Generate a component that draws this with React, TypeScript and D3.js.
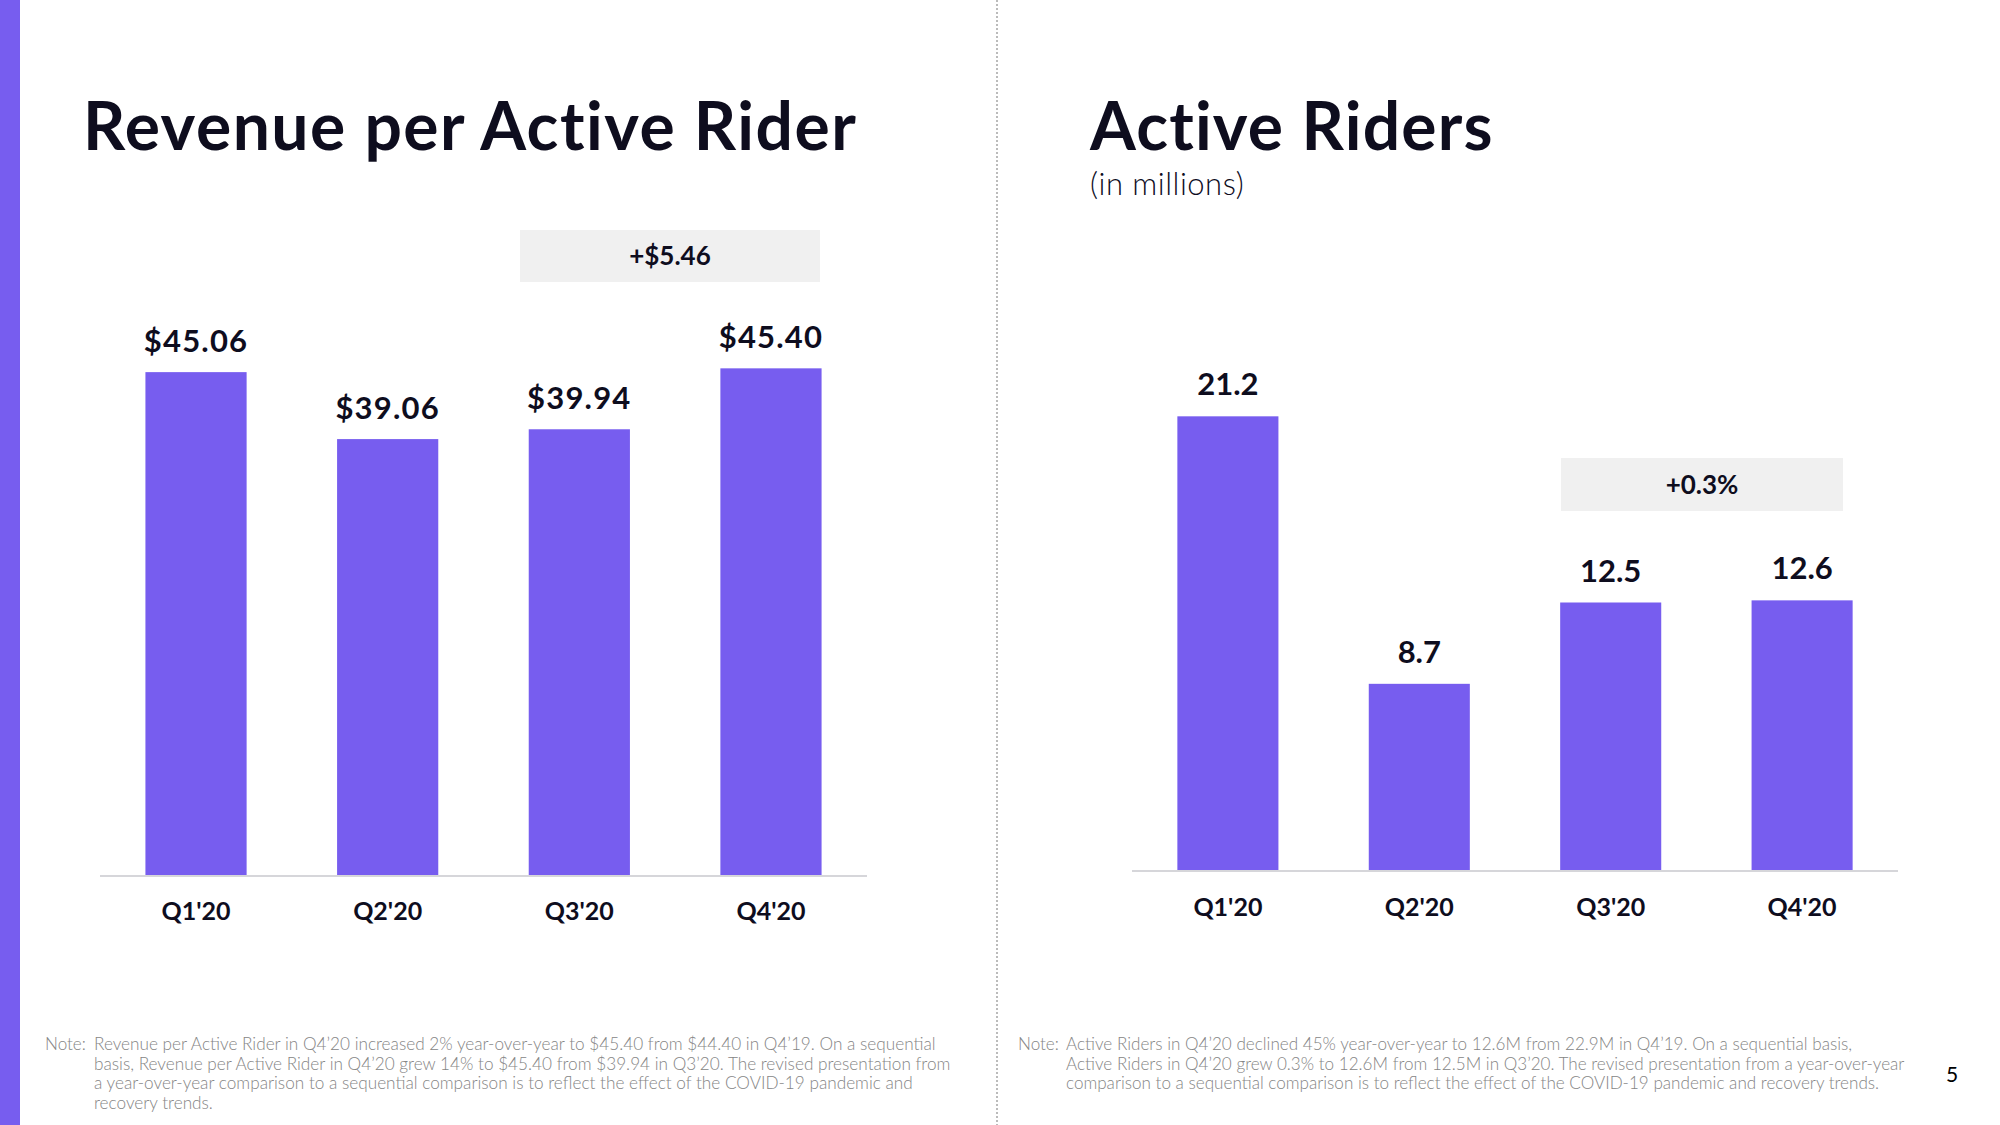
import React from "react";
import * as d3 from "d3";

const quarters = ["Q1'20", "Q2'20", "Q3'20", "Q4'20"];
const revenuePerRider = [45.06, 39.06, 39.94, 45.4];
const activeRiders = [21.2, 8.7, 12.5, 12.6];
const revenueDelta = "+$5.46";
const ridersDelta = "+0.3%";

const leftNote = [
  "Revenue per Active Rider in Q4\u201920 increased 2% year-over-year to $45.40 from $44.40 in Q4\u201919. On a sequential",
  "basis, Revenue per Active Rider in Q4\u201920 grew 14% to $45.40 from $39.94 in Q3\u201920. The revised presentation from",
  "a year-over-year comparison to a sequential comparison is to reflect the effect of the COVID-19 pandemic and",
  "recovery trends.",
];
const rightNote = [
  "Active Riders in Q4\u201920 declined 45% year-over-year to 12.6M from 22.9M in Q4\u201919. On a sequential basis,",
  "Active Riders in Q4\u201920 grew 0.3% to 12.6M from 12.5M in Q3\u201920. The revised presentation from a year-over-year",
  "comparison to a sequential comparison is to reflect the effect of the COVID-19 pandemic and recovery trends.",
];

const PURPLE = "#775DEF";
const DARK = "#0E0D1E";
const NOTE = "#858585";
const FONT = "Lato, 'Noto Sans', sans-serif";

function BarPanel({
  values,
  xRange,
  yBase,
  yMax,
  yTop,
  fmt,
  delta,
  deltaBox,
  labelGap,
  axisLabelOffset,
  labelSpacing,
}: any) {
  const x = d3.scaleBand<string>().domain(quarters).range(xRange).paddingInner(0.472).paddingOuter(0.237);
  const y = d3.scaleLinear().domain([0, yMax]).range([yBase, yTop]);
  return (
    <g>
      {values.map((v: number, i: number) => (
        <g key={i}>
          <rect
            x={x(quarters[i])}
            y={y(v)}
            width={x.bandwidth()}
            height={y(0) - y(v)}
            fill={PURPLE}
          />
          <text
            x={(x(quarters[i]) as number) + x.bandwidth() / 2}
            y={y(v) - labelGap}
            textAnchor="middle"
            fontFamily={FONT}
            fontWeight={700}
            fontSize={31}
            letterSpacing={labelSpacing}
            fill={DARK}
          >
            {fmt(v)}
          </text>
          <text
            x={(x(quarters[i]) as number) + x.bandwidth() / 2}
            y={y(0) + axisLabelOffset}
            textAnchor="middle"
            fontFamily={FONT}
            fontWeight={700}
            fontSize={25}
            fill={DARK}
          >
            {quarters[i]}
          </text>
        </g>
      ))}
      <line x1={xRange[0]} x2={xRange[1]} y1={y(0) + 1} y2={y(0) + 1} stroke="#D6D6DA" strokeWidth={2} />
      <rect x={deltaBox[0]} y={deltaBox[1]} width={deltaBox[2]} height={deltaBox[3]} fill="#F0F0F0" />
      <text
        x={deltaBox[0] + deltaBox[2] / 2}
        y={deltaBox[1] + deltaBox[3] / 2 + 9}
        textAnchor="middle"
        fontFamily={FONT}
        fontWeight={700}
        fontSize={26}
        fill={DARK}
      >
        {delta}
      </text>
    </g>
  );
}

export default function App() {
  return (
    <svg
      width={2000}
      height={1125}
      style={{ position: "fixed", top: 0, left: 0, background: "#fff" }}
    >
      <rect x={0} y={0} width={2000} height={1125} fill="#fff" />
      <rect x={0} y={0} width={20} height={1125} fill={PURPLE} />
      <line x1={997} x2={997} y1={0} y2={1125} stroke="#BBBBBB" strokeWidth={2} strokeDasharray="2,2" />

      <text x={83} y={150} fontFamily={FONT} fontWeight={700} fontSize={66} letterSpacing={1.5} fill={DARK}>
        Revenue per Active Rider
      </text>
      <text x={1090} y={150} fontFamily={FONT} fontWeight={700} fontSize={66} letterSpacing={1.2} fill={DARK}>
        Active Riders
      </text>
      <text x={1090} y={195} fontFamily={FONT} fontWeight={300} fontSize={31} letterSpacing={0.5} fill={DARK}>
        (in millions)
      </text>

      <BarPanel
        values={revenuePerRider}
        xRange={[100, 867]}
        yBase={875}
        yMax={50}
        yTop={875 - 558}
        fmt={d3.format("$.2f")}
        delta={revenueDelta}
        deltaBox={[520, 230, 300, 52]}
        labelGap={20}
        axisLabelOffset={45}
        labelSpacing={1.2}
      />
      <BarPanel
        values={activeRiders}
        xRange={[1132, 1898]}
        yBase={870}
        yMax={25}
        yTop={870 - 535}
        fmt={d3.format(".1f")}
        delta={ridersDelta}
        deltaBox={[1561, 458, 282, 53]}
        labelGap={21}
        axisLabelOffset={46}
        labelSpacing={0}
      />

      <text x={45} y={1050} fontFamily={FONT} fontWeight={300} fontSize={17.1} fill={NOTE}>
        Note:
      </text>
      {leftNote.map((l, i) => (
        <text key={i} x={94} y={1050 + i * 19.5} fontFamily={FONT} fontWeight={300} fontSize={17.2} fill={NOTE}>
          {l}
        </text>
      ))}
      <text x={1018} y={1050} fontFamily={FONT} fontWeight={300} fontSize={17.1} fill={NOTE}>
        Note:
      </text>
      {rightNote.map((l, i) => (
        <text key={i} x={1066} y={1050 + i * 19.5} fontFamily={FONT} fontWeight={300} fontSize={17.1} fill={NOTE}>
          {l}
        </text>
      ))}
      <text x={1952} y={1082} textAnchor="middle" fontFamily={FONT} fontWeight={400} fontSize={21} fill="#000">
        5
      </text>
    </svg>
  );
}
